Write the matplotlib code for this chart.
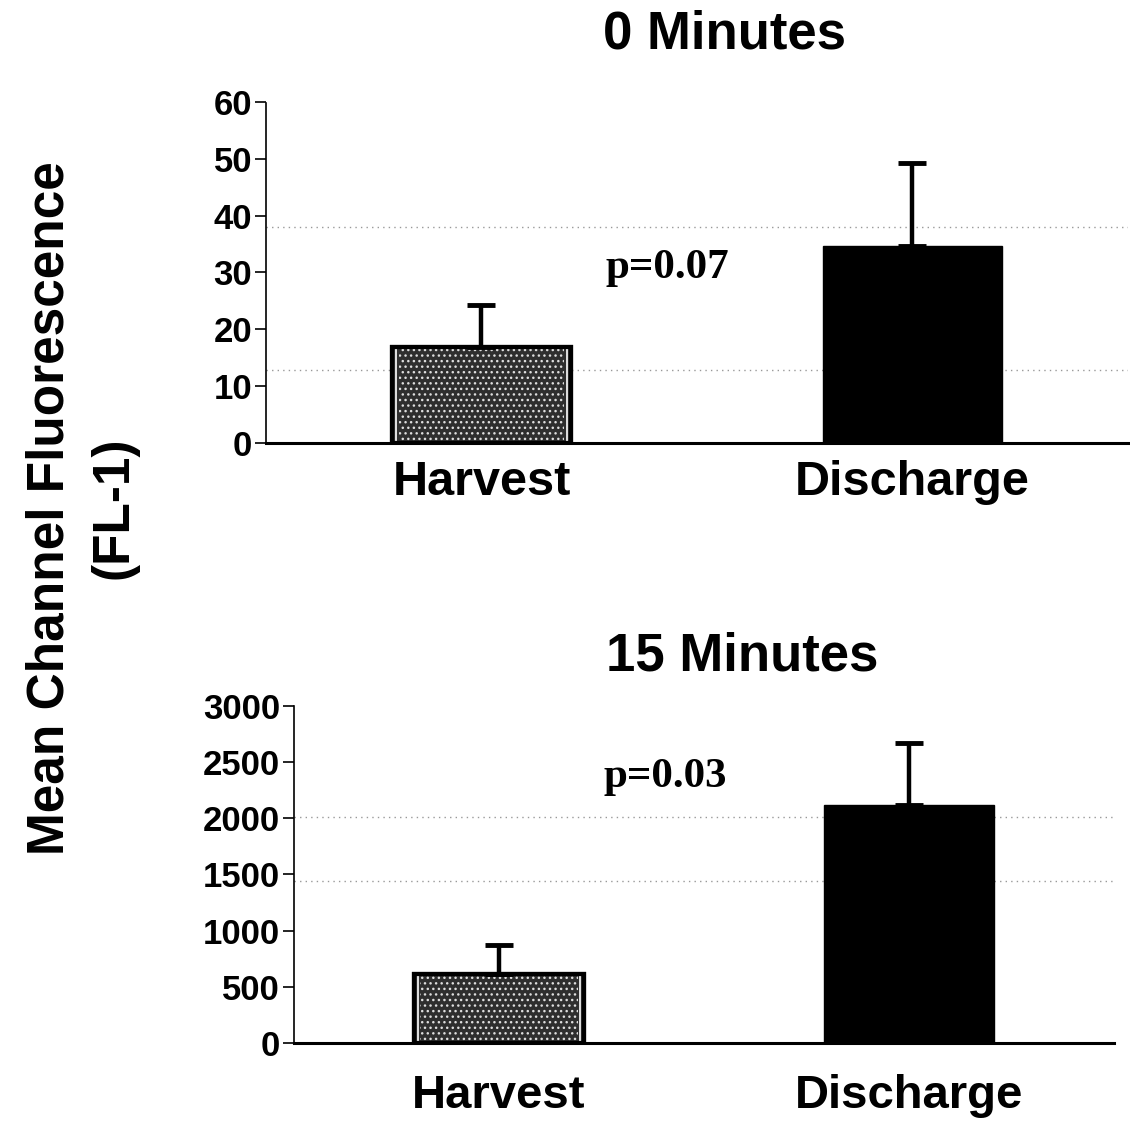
import matplotlib
matplotlib.use("Agg")
import matplotlib.pyplot as plt

categories = ["Harvest", "Discharge"]

# 0 minutes panel
means_0 = [16.8, 34.6]
errs_0 = [7.5, 14.6]
p_text_0 = "p=0.07"

# 15 minutes panel
means_15 = [612, 2120]
errs_15 = [262, 552]
p_text_15 = "p=0.03"

# faint dotted scan lines visible in the original
faint_0 = [38, 12.8]
faint_15 = [2010, 1440]

SANS = ["Liberation Sans", "DejaVu Sans"]
SERIF = ["Liberation Serif", "DejaVu Serif"]


def draw_panel(ax, means, errs, faint, yticks, p_text, p_pos, label_pad, label_size):
    x = list(range(len(categories)))
    for y in faint:
        ax.axhline(y, color="#999999", lw=1, ls=(0, (1, 3)), zorder=0)

    # Harvest: textured grey, Discharge: solid black
    ax.bar(x[0], means[0], width=0.415, color="#2e2e2e", edgecolor="black", linewidth=3, zorder=2)
    ax.bar(x[0], means[0], width=0.385, fill=False, hatch="...", edgecolor="#dddddd", linewidth=0, zorder=3)
    ax.bar(x[0], means[0], width=0.395, fill=False, edgecolor="white", linewidth=1.2, zorder=4)
    ax.bar(x[0], means[0], width=0.415, fill=False, edgecolor="black", linewidth=3, zorder=4)
    ax.bar(x[1], means[1], width=0.415, color="black", edgecolor="black", linewidth=1, zorder=2)
    ax.errorbar(x, means, yerr=[[0] * len(errs), errs], fmt="none", ecolor="black",
                elinewidth=3.2, capsize=10, capthick=3.5, zorder=5)

    ax.set_xlim(-0.5, 1.5)
    ax.set_ylim(yticks[0], yticks[-1])
    ax.set_yticks(yticks)
    ax.set_xticks(x)
    ax.set_xticklabels(categories, fontsize=label_size, fontweight="bold", family=SANS)
    ax.tick_params(axis="x", length=0, pad=label_pad)
    ax.tick_params(axis="y", length=8, width=1.2, direction="out", pad=2)
    for lbl in ax.get_yticklabels():
        lbl.set_fontsize(25)
        lbl.set_fontweight("bold")
        lbl.set_family(SANS)
    for side in ("top", "right"):
        ax.spines[side].set_visible(False)
    ax.spines["left"].set_linewidth(1.2)
    ax.spines["left"].set_linestyle((0, (4, 1)))
    ax.spines["bottom"].set_linewidth(2.2)
    ax.text(p_pos[0], p_pos[1], p_text, fontsize=31, fontweight="bold", family=SERIF,
            ha="center", va="center")


fig = plt.figure(figsize=(11.3, 11.24), dpi=100)
ax_top = fig.add_axes([0.2354, 0.6059, 0.7628, 0.3034])
ax_bot = fig.add_axes([0.2602, 0.0721, 0.7257, 0.2998])

draw_panel(ax_top, means_0, errs_0, faint_0, [0, 10, 20, 30, 40, 50, 60], p_text_0, (0.43, 30.8), 12, 35)
draw_panel(ax_bot, means_15, errs_15, faint_15, [0, 500, 1000, 1500, 2000, 2500, 3000], p_text_15, (0.405, 2370), 22, 34)

fig.text(0.641, 0.969, "0 Minutes", fontsize=38, fontweight="bold", family=SANS, ha="center", va="center")
fig.text(0.657, 0.4155, "15 Minutes", fontsize=38, fontweight="bold", family=SANS, ha="center", va="center")
fig.text(0.0726, 0.548, "Mean Channel Fluorescence\n(FL-1)", fontsize=37, fontweight="bold", family=SANS,
         rotation=90, ha="center", va="center", linespacing=1.4)

fig.savefig("out.png", dpi=100)
plt.close(fig)
